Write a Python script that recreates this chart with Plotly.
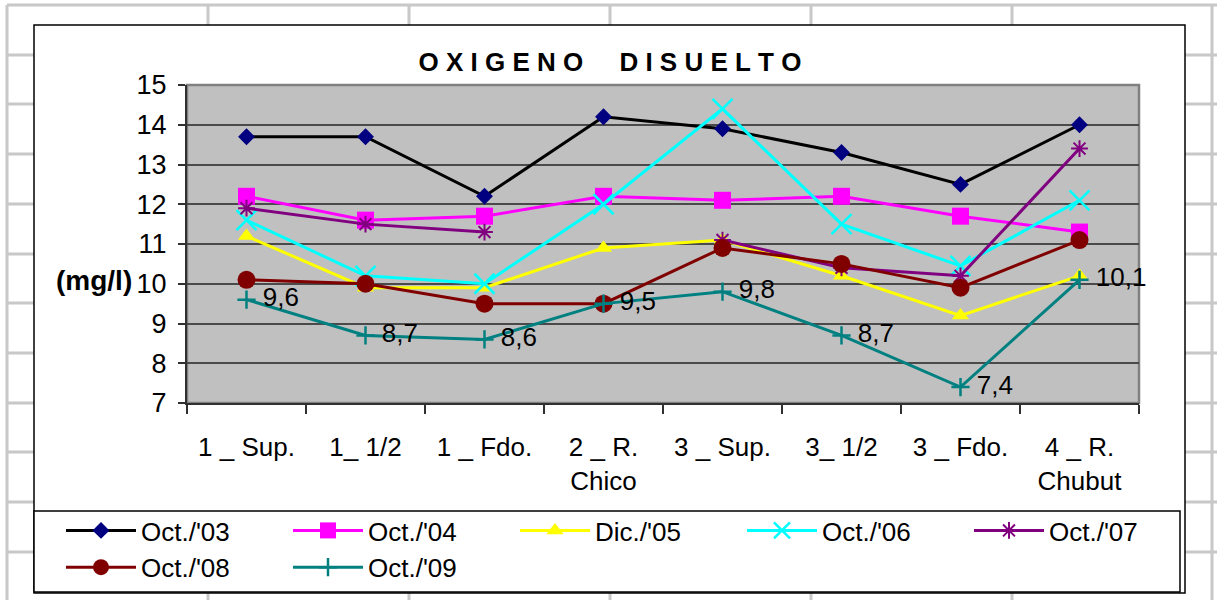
import plotly.graph_objects as go

# station categories (x axis)
stations = ["1 _ Sup.", "1_ 1/2", "1 _ Fdo.", "2 _ R.<br>Chico",
            "3 _ Sup.", "3_ 1/2", "3 _ Fdo.", "4 _ R.<br>Chubut"]

# dissolved oxygen (mg/l) per campaign
oct_03 = [13.7, 13.7, 12.2, 14.2, 13.9, 13.3, 12.5, 14.0]
oct_04 = [12.2, 11.6, 11.7, 12.2, 12.1, 12.2, 11.7, 11.3]
dic_05 = [11.2, 9.9, 9.9, 10.9, 11.1, 10.2, 9.2, 10.2]
oct_06 = [11.6, 10.2, 10.0, 12.0, 14.4, 11.5, 10.45, 12.1]
oct_07 = [11.9, 11.5, 11.3, None, 11.1, 10.4, 10.2, 13.4]
oct_08 = [10.1, 10.0, 9.5, 9.5, 10.9, 10.5, 9.9, 11.1]
oct_09 = [9.6, 8.7, 8.6, 9.5, 9.8, 8.7, 7.4, 10.1]

W_FIG, H_FIG = 1217, 600
L, R, T, B = 187, 1139, 85, 403
FONT = "Liberation Sans, Arial, sans-serif"


def px(x):
    return (x - L) / (R - L)


def py(y):
    return (B - y) / (B - T)


series = [
    ("Oct./'03", oct_03, "black", dict(symbol="diamond", size=13, color="#000080")),
    ("Oct./'04", oct_04, "#FF00FF", dict(symbol="square", size=17, color="#FF00FF")),
    ("Dic./'05", dic_05, "#FFFF00", dict(symbol="triangle-up", size=15, color="#FFFF00")),
    ("Oct./'06", oct_06, "#00FFFF", dict(symbol="x-thin-open", size=20, color="#00FFFF",
                                         line=dict(width=2.5, color="#00FFFF"))),
    ("Oct./'07", oct_07, "#800080", dict(symbol="asterisk-open", size=14, color="#800080",
                                         line=dict(width=2, color="#800080"))),
    ("Oct./'08", oct_08, "#800000", dict(symbol="circle", size=18, color="#800000")),
    ("Oct./'09", oct_09, "#008080", dict(symbol="cross-thin-open", size=13, color="#008080",
                                         line=dict(width=2.5, color="#008080"))),
]

fig = go.Figure()
for name, vals, lc, mk in series:
    labelled = name == "Oct./'09"
    fig.add_trace(go.Scatter(
        x=stations, y=vals, name=name,
        mode="lines+markers+text" if labelled else "lines+markers",
        line=dict(color=lc, width=3),
        marker=mk,
        text=["\u00a0" + f"{v:.1f}".replace(".", ",") for v in vals] if labelled else None,
        textposition="middle right",
        textfont=dict(family=FONT, size=26, color="black"),
        cliponaxis=False,
        connectgaps=False,
    ))

# spreadsheet cells behind the chart + chart frame + plot area + legend box
shapes = []
for gx in [7, 208, 409, 610, 811, 1012, 1212]:
    shapes.append(dict(type="line", xref="paper", yref="paper", layer="below",
                       x0=px(gx), x1=px(gx), y0=py(5), y1=py(620),
                       line=dict(color="#C8C8C8", width=3)))
for gy in [5, 55, 104, 154, 204, 254, 303, 353, 403, 452, 502, 552]:
    shapes.append(dict(type="line", xref="paper", yref="paper", layer="below",
                       x0=px(7), x1=px(1230), y0=py(gy), y1=py(gy),
                       line=dict(color="#C8C8C8", width=3)))
shapes.append(dict(type="rect", xref="paper", yref="paper", layer="below",
                   x0=px(34), x1=px(1185), y0=py(25), y1=py(593),
                   fillcolor="white", line=dict(color="black", width=1.5)))
shapes.append(dict(type="rect", xref="paper", yref="paper", layer="below",
                   x0=0, x1=1, y0=0, y1=1,
                   fillcolor="#C0C0C0", line=dict(color="#808080", width=2.5)))
shapes.append(dict(type="rect", xref="paper", yref="paper", layer="below",
                   x0=px(34), x1=px(1180), y0=py(511), y1=py(592),
                   fillcolor="white", line=dict(color="black", width=1.5)))

nb = "\u00a0"
title = nb.join("OXIGENO") + nb * 5 + nb.join("DISUELTO")

fig.update_layout(
    width=W_FIG, height=H_FIG,
    margin=dict(l=L, r=W_FIG - R, t=T, b=H_FIG - B, autoexpand=False),
    paper_bgcolor="white", plot_bgcolor="rgba(0,0,0,0)",
    font=dict(family=FONT, size=26, color="black"),
    title=dict(text="<b>" + title + "</b>", font=dict(family=FONT, size=26, color="black"),
               x=610 / W_FIG, xanchor="center", y=1 - 62 / H_FIG, yanchor="middle"),
    showlegend=True,
    legend=dict(orientation="h", x=px(61), xanchor="left", y=py(507), yanchor="top",
                bgcolor="rgba(0,0,0,0)", borderwidth=0,
                entrywidth=142, entrywidthmode="pixels", itemwidth=70,
                font=dict(family=FONT, size=26, color="black"), tracegroupgap=0),
    shapes=shapes,
    annotations=[dict(text="<b>(mg/l)</b>", xref="paper", yref="paper",
                      x=px(134), xanchor="right", y=py(280), yanchor="middle",
                      showarrow=False, font=dict(family=FONT, size=28, color="black"))],
)
fig.update_xaxes(type="category", range=[-0.5, 7.5], showline=True, linecolor="#303030",
                 linewidth=2, ticks="outside", tickson="boundaries", ticklen=9,
                 tickcolor="#303030", tickwidth=1.5, showgrid=False,
                 tickfont=dict(family=FONT, size=26, color="black"), ticklabelstandoff=20)
fig.update_yaxes(range=[7, 15], dtick=1, showline=True, linecolor="#303030", linewidth=2,
                 ticks="outside", ticklen=7, tickcolor="#303030", tickwidth=1.5,
                 showgrid=True, gridcolor="#4A4A4A", gridwidth=1.5, zeroline=False,
                 tickfont=dict(family=FONT, size=27, color="black"), ticklabelstandoff=6)

# page body has a default 8px margin; drop it so the chart sits at the window corner
fig.write_html("out.html", config={"displayModeBar": False},
               post_script="document.body.style.margin='0px';")
